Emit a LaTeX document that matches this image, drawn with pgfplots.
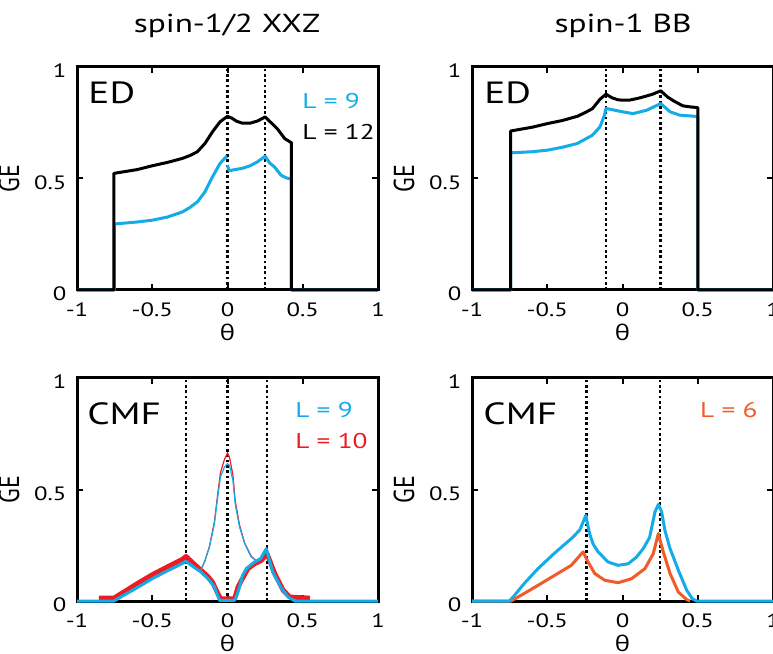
\documentclass[border=0pt]{standalone}
\usepackage{pgfplots}
\pgfplotsset{compat=1.18}
\usepackage{fontspec}
\setmainfont{PT Sans}
\newfontfamily\grk{Open Sans}

\definecolor{cblue}{RGB}{20,172,232}
\definecolor{cred}{RGB}{237,28,36}
\definecolor{corange}{RGB}{241,90,41}

\tikzset{
  vline/.style={black, line width=2pt, dash pattern=on 2pt off 2pt},
  data/.style={line width=2.25pt, line join=round},
  wide/.style={xscale=1.28, inner sep=0pt},
}
\pgfplotsset{
  panel/.style={
    width=225.75pt, height=167.25pt, scale only axis, clip=false,
    anchor=south west,
    xmin=-1, xmax=1, ymin=0, ymax=1,
    xtick={-1,-0.5,0,0.5,1}, xticklabels={-1,-0.5,0,0.5,1},
    ytick={0,0.5,1}, yticklabels={0,0.5,1},
    tick align=inside, major tick length=4.5pt,
    every tick/.style={black,line width=1.5pt},
    axis line style={line width=2.25pt},
    ticklabel style={font=\fontsize{14.5}{16}\selectfont, xscale=1.28},
    xticklabel style={inner sep=0pt, yshift=-9pt},
    yticklabel style={inner sep=0pt, xshift=-6pt, yshift=-3pt},
    xlabel={\fontsize{16}{18}\selectfont\grk θ},
    xlabel style={at={(axis description cs:0.5,-0.15)}, anchor=north, inner sep=0pt, xscale=1.2},
  },
}
\newcommand{\bigtxt}[1]{\fontsize{23}{27}\selectfont #1}
\newcommand{\lab}[1]{\fontsize{16}{19}\selectfont #1}
\newcommand{\gelabel}{\node[rotate=90, anchor=south, inner sep=0pt] at (axis description cs:-0.19,0.5) {\fontsize{18}{20}\selectfont\scalebox{1}[1.2]{GE}};}

\begin{document}
\begin{tikzpicture}
\node[anchor=base, wide] at (170.25pt,465pt) {\fontsize{19.5}{23}\selectfont spin-1/2 XXZ};
\node[anchor=base, wide] at (467.25pt,465pt) {\fontsize{19.5}{23}\selectfont spin-1 BB};

% top left: ED spin-1/2
\begin{axis}[panel, at={(57.75pt,272.25pt)}]
\addplot[vline] coordinates {(0,0) (0,1)};
\addplot[vline] coordinates {(0.25,0) (0.25,1)};
\addplot[data, cblue] coordinates {(-1,0) (-0.752,0) (-0.752,0.296) (-0.6,0.305) (-0.5,0.313) (-0.4,0.327) (-0.3,0.35) (-0.25,0.37) (-0.2,0.395) (-0.15,0.44) (-0.1,0.507) (-0.05,0.567) (-0.01,0.597) (-0.003,0.6)};
\addplot[data, cblue] coordinates {(0,0.56) (0.01,0.535) (0.1,0.546) (0.15,0.557) (0.2,0.575) (0.25,0.6) (0.28,0.57) (0.315,0.55) (0.355,0.515) (0.39,0.503) (0.425,0.497) (0.425,0) (1,0)};
\addplot[data, black] coordinates {(-1,0) (-0.755,0) (-0.755,0.523) (-0.6,0.54) (-0.5,0.557) (-0.4,0.572) (-0.3,0.59) (-0.25,0.603) (-0.2,0.62) (-0.15,0.657) (-0.1,0.709) (-0.05,0.754) (0,0.779) (0.03,0.77) (0.06,0.757) (0.1,0.748) (0.15,0.748) (0.2,0.758) (0.25,0.776) (0.29,0.75) (0.33,0.724) (0.38,0.679) (0.425,0.66) (0.425,0) (1,0)};
\gelabel
\node[anchor=north west, wide] at (axis description cs:0.037,0.933) {\bigtxt{ED}};
\node[anchor=base west, wide, cblue] at (axis description cs:0.748,0.812) {\lab{L = 9}};
\node[anchor=base west, wide, black] at (axis description cs:0.748,0.673) {\lab{L = 12}};
\end{axis}

% top right: ED spin-1
\begin{axis}[panel, at={(354pt,272.25pt)}]
\addplot[vline] coordinates {(-0.11,0) (-0.11,1)};
\addplot[vline] coordinates {(0.254,0) (0.254,1)};
\addplot[data, cblue] coordinates {(-1,0) (-0.743,0) (-0.743,0.615) (-0.6,0.62) (-0.5,0.627) (-0.4,0.64) (-0.3,0.657) (-0.2,0.694) (-0.15,0.731) (-0.12,0.784) (-0.11,0.814) (-0.05,0.806) (0.0,0.799) (0.07,0.791) (0.16,0.806) (0.254,0.836) (0.316,0.799) (0.38,0.784) (0.48,0.779) (0.5,0.778) (0.5,0) (1,0)};
\addplot[data, black] coordinates {(-1,0) (-0.743,0) (-0.743,0.713) (-0.6,0.73) (-0.5,0.746) (-0.4,0.76) (-0.3,0.779) (-0.25,0.795) (-0.2,0.813) (-0.15,0.855) (-0.11,0.878) (-0.07,0.862) (-0.03,0.853) (0.0,0.851) (0.05,0.852) (0.1,0.859) (0.15,0.868) (0.2,0.878) (0.254,0.893) (0.3,0.865) (0.34,0.848) (0.4,0.826) (0.45,0.821) (0.5,0.818) (0.5,0) (1,0)};
\gelabel
\node[anchor=north west, wide] at (axis description cs:0.04,0.933) {\bigtxt{ED}};
\end{axis}

% bottom left: CMF spin-1/2
\begin{axis}[panel, at={(57.75pt,39pt)}]
\addplot[vline] coordinates {(-0.276,0) (-0.276,1)};
\addplot[vline] coordinates {(0,0) (0,1)};
\addplot[vline] coordinates {(0.262,0) (0.262,1)};
\addplot[line width=3.6pt, line join=round, cred] coordinates {(-0.855,0.013) (-0.755,0.013) (-0.6,0.078) (-0.5,0.118) (-0.4,0.153) (-0.3,0.187) (-0.276,0.2) (-0.22,0.165) (-0.176,0.138) (-0.13,0.11) (-0.1,0.085) (-0.065,0.035) (-0.045,0.01) (0.047,0.01) (0.07,0.063) (0.091,0.09) (0.136,0.145) (0.18,0.167) (0.225,0.182) (0.263,0.212) (0.314,0.123) (0.37,0.048) (0.414,0.018) (0.548,0.013)};
\addplot[line width=0.9pt, cred] coordinates {(-0.176,0.14) (-0.15,0.18) (-0.12,0.245) (-0.087,0.355) (-0.065,0.48) (-0.047,0.575) (-0.02,0.635) (0,0.664) (0.013,0.645) (0.036,0.565) (0.051,0.45) (0.08,0.34) (0.114,0.26) (0.158,0.2) (0.19,0.182)};
\addplot[data, cblue] coordinates {(-1,0) (-0.755,0) (-0.6,0.06) (-0.5,0.1) (-0.4,0.135) (-0.3,0.168) (-0.276,0.178) (-0.22,0.15) (-0.176,0.13) (-0.13,0.1) (-0.087,0.063) (-0.06,0.015) (-0.053,0.003) (0.047,0.003) (0.065,0.03) (0.08,0.063) (0.1,0.115) (0.125,0.145) (0.18,0.175) (0.22,0.19) (0.258,0.235) (0.3,0.13) (0.36,0.055) (0.403,0.018) (0.448,0) (1,0)};
\addplot[line width=0.9pt, cblue] coordinates {(-0.176,0.14) (-0.15,0.18) (-0.12,0.242) (-0.087,0.347) (-0.065,0.466) (-0.047,0.556) (-0.02,0.601) (0,0.616) (0.013,0.608) (0.036,0.541) (0.051,0.436) (0.08,0.332) (0.114,0.257) (0.158,0.197) (0.19,0.182)};
\gelabel
\node[anchor=north west, wide] at (axis description cs:0.033,0.892) {\bigtxt{CMF}};
\node[anchor=base west, wide, cblue] at (axis description cs:0.724,0.825) {\lab{L = 9}};
\node[anchor=base west, wide, cred] at (axis description cs:0.724,0.686) {\lab{L = 10}};
\end{axis}

% bottom right: CMF spin-1
\begin{axis}[panel, at={(354pt,39pt)}]
\addplot[vline] coordinates {(-0.24,0) (-0.24,1)};
\addplot[vline] coordinates {(0.249,0) (0.249,1)};
\addplot[data, corange] coordinates {(-1,0) (-0.74,0) (-0.65,0.035) (-0.562,0.07) (-0.451,0.115) (-0.34,0.16) (-0.262,0.22) (-0.229,0.175) (-0.184,0.123) (-0.118,0.093) (-0.029,0.082) (0.06,0.1) (0.149,0.145) (0.204,0.212) (0.238,0.302) (0.271,0.22) (0.316,0.123) (0.371,0.04) (0.427,0.006) (0.449,0)};
\addplot[data, cblue] coordinates {(-1,0) (-0.751,0) (-0.718,0.025) (-0.651,0.08) (-0.562,0.145) (-0.451,0.215) (-0.34,0.28) (-0.284,0.318) (-0.244,0.384) (-0.218,0.3) (-0.195,0.255) (-0.162,0.22) (-0.096,0.175) (-0.029,0.16) (0.038,0.167) (0.093,0.197) (0.138,0.235) (0.18,0.285) (0.216,0.4) (0.238,0.433) (0.26,0.4) (0.282,0.316) (0.316,0.235) (0.371,0.138) (0.427,0.048) (0.464,0.01) (0.493,0) (1,0)};
\gelabel
\node[anchor=north west, wide] at (axis description cs:0.037,0.892) {\bigtxt{CMF}};
\node[anchor=base west, wide, corange] at (axis description cs:0.757,0.825) {\lab{L = 6}};
\end{axis}

\pgfresetboundingbox
\path[use as bounding box] (0,0) rectangle (579.75pt,489.75pt);
\end{tikzpicture}
\end{document}
